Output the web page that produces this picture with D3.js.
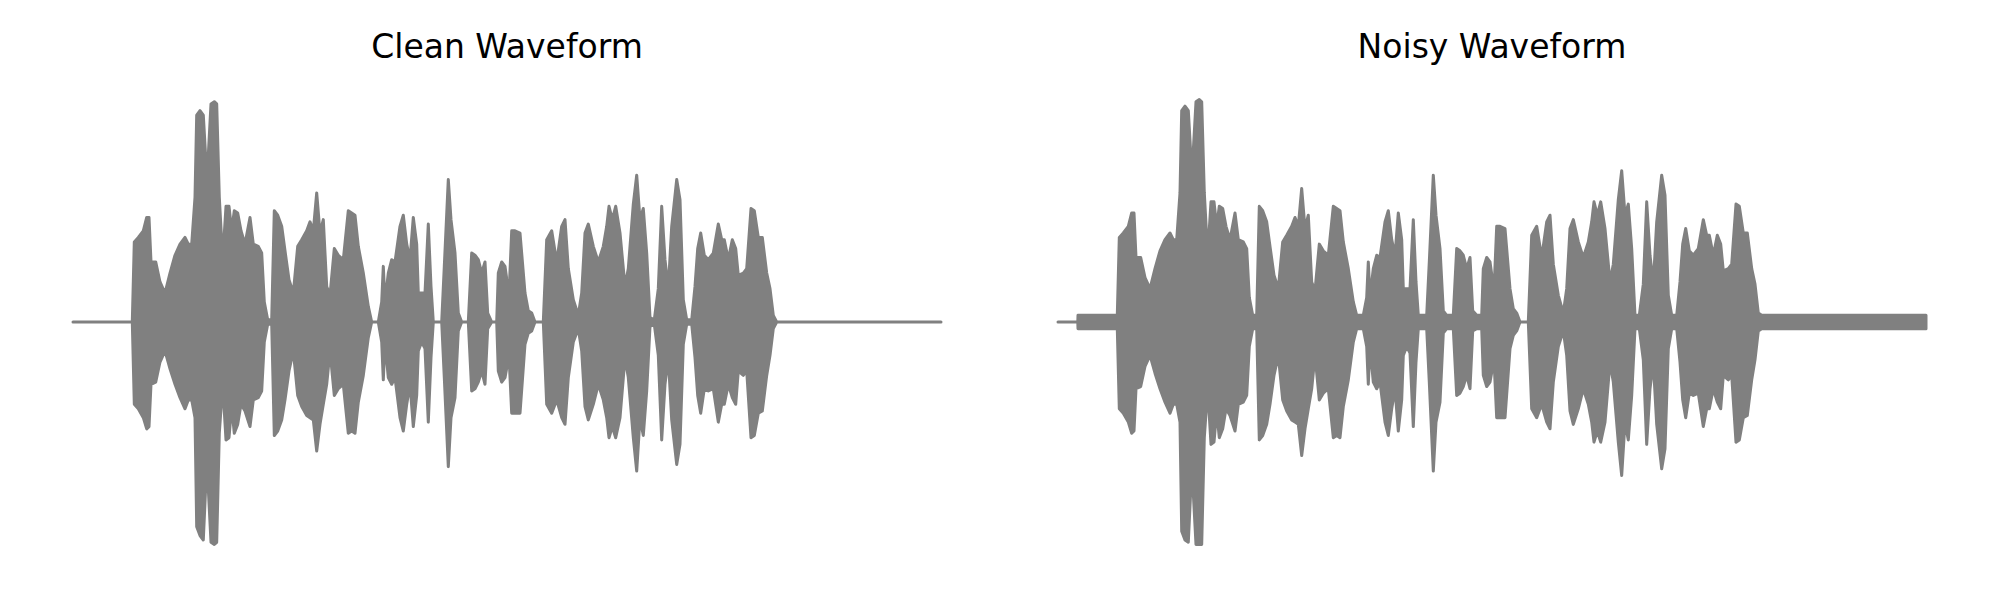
<!DOCTYPE html>
<html>
<head>
<meta charset="utf-8">
<script src="https://cdn.jsdelivr.net/npm/d3@7"></script>
<style>
  html, body { margin: 0; padding: 0; background: #ffffff; }
  svg { display: block; }
</style>
</head>
<body>
<div id="chart"></div>
<script>
// ---- Data (envelope of the waveforms) ----
const panelTitles = ["Clean Waveform", "Noisy Waveform"];
const duration = 8.68; // seconds

const timeS = [0,0.198,0.2,0.593,0.613,0.653,0.703,0.737,0.76,0.78,0.827,0.87,0.92,0.97,1.02,1.07,1.12,1.153,1.187,1.22,
1.237,1.27,1.303,1.327,1.353,1.38,1.413,1.437,1.463,1.497,1.53,1.56,1.587,1.613,1.647,1.68,1.72,1.77,1.803,1.853,
1.887,1.913,1.947,1.987,2.013,2.047,2.087,2.12,2.16,2.203,2.247,2.287,2.337,2.37,2.403,2.437,2.47,2.503,2.537,2.57,
2.613,2.653,2.703,2.753,2.787,2.82,2.853,2.903,2.953,2.987,3.053,3.087,3.103,3.12,3.153,3.187,3.22,3.27,3.303,3.337,
3.37,3.403,3.437,3.453,3.487,3.52,3.553,3.58,3.603,3.687,3.713,3.753,3.78,3.82,3.853,3.887,3.953,3.987,4.02,4.053,
4.087,4.12,4.147,4.187,4.237,4.253,4.287,4.32,4.36,4.387,4.42,4.47,4.52,4.553,4.587,4.62,4.703,4.737,4.787,4.837,
4.887,4.92,4.953,5.003,5.053,5.087,5.12,5.153,5.203,5.253,5.303,5.337,5.36,5.393,5.427,5.47,5.52,5.553,5.603,5.637,
5.67,5.703,5.737,5.77,5.813,5.853,5.887,5.92,5.953,5.987,6.037,6.07,6.103,6.137,6.187,6.22,6.247,6.277,6.313,6.353,
6.403,6.453,6.487,6.513,6.553,6.593,6.627,6.653,6.703,6.737,6.78,6.813,6.853,6.893,6.937,6.97,7.003,7.037,8.68];

const cleanUpper = [0,0,0,0,.36,.38,.41,.47,.47,.27,.27,.18,.13,.22,.30,.35,.38,.35,.35,.56,
.93,.95,.93,.74,.75,.98,.99,.98,.56,.28,.52,.52,.41,.50,.49,.41,.35,.47,.35,.34,
.31,.09,.01,.01,.50,.48,.43,.32,.19,.13,.34,.37,.41,.45,.41,.58,.40,.46,.16,.12,
.33,.30,.28,.50,.49,.48,.34,.22,.07,0,0,.09,.25,.09,.22,.28,.27,.43,.48,.35,
.28,.47,.35,.13,.13,.13,.44,.16,0,0,.25,.64,.46,.31,.04,0,0,.31,.30,.28,
.22,.27,.04,0,0,.22,.27,.25,.12,.41,.41,.40,.13,.05,.04,0,0,.37,.41,.27,
.43,.46,.24,.10,.03,.13,.40,.44,.34,.27,.34,.43,.52,.46,.52,.40,.16,.24,.53,.66,
.46,.51,.31,.02,.01,.15,.52,.28,.15,.43,.64,.55,.10,.01,.01,.16,.33,.40,.30,.28,
.31,.44,.37,.37,.28,.37,.33,.21,.22,.24,.51,.50,.38,.38,.22,.15,.03,0,0];

const cleanLower = [0,0,0,0,.37,.39,.43,.48,.47,.28,.27,.18,.13,.21,.28,.34,.39,.35,.35,.43,
.92,.96,.98,.74,.75,.99,1.0,.99,.50,.28,.53,.52,.38,.50,.46,.37,.40,.47,.35,.34,
.31,.09,.01,.01,.51,.49,.44,.35,.22,.13,.33,.38,.42,.43,.44,.58,.46,.37,.28,.13,
.33,.30,.28,.50,.49,.50,.36,.24,.07,0,0,.09,.26,.09,.25,.28,.25,.43,.49,.37,
.28,.47,.33,.13,.09,.12,.45,.16,0,0,.25,.65,.43,.34,.04,0,0,.31,.30,.27,
.22,.28,.03,0,0,.22,.27,.25,.15,.41,.41,.41,.10,.05,.04,0,0,.37,.41,.35,
.43,.46,.25,.09,.03,.13,.38,.44,.37,.28,.35,.43,.52,.47,.52,.43,.16,.25,.52,.67,
.43,.51,.31,.02,.01,.15,.53,.28,.16,.44,.64,.55,.10,.01,.01,.16,.33,.41,.30,.31,
.30,.45,.37,.37,.28,.34,.37,.22,.24,.22,.52,.51,.41,.40,.24,.15,.03,0,0];

const noisyUpper = [0,0,.03,.03,.38,.40,.43,.49,.49,.29,.29,.20,.15,.24,.32,.37,.40,.37,.37,.58,
.95,.97,.95,.76,.77,.99,1.0,.99,.58,.30,.54,.54,.43,.52,.51,.43,.37,.49,.37,.36,
.33,.11,.03,.03,.52,.50,.45,.34,.21,.15,.36,.39,.43,.47,.43,.60,.42,.48,.18,.14,
.35,.32,.30,.52,.51,.50,.36,.24,.09,.03,.03,.11,.27,.11,.24,.30,.29,.45,.50,.37,
.30,.49,.37,.15,.15,.15,.46,.18,.03,.03,.27,.66,.48,.33,.05,.03,.03,.33,.32,.30,
.24,.29,.05,.03,.03,.24,.29,.27,.14,.43,.43,.42,.15,.06,.04,0,0,.39,.43,.29,
.45,.48,.26,.12,.04,.15,.42,.46,.36,.29,.36,.45,.54,.48,.54,.42,.18,.26,.55,.68,
.48,.53,.33,.03,.03,.17,.54,.30,.17,.45,.66,.57,.12,.03,.03,.18,.35,.42,.32,.30,
.33,.46,.39,.39,.30,.39,.35,.23,.24,.26,.53,.52,.40,.40,.24,.17,.04,.03,.03];

const noisyLower = [0,0,.03,.03,.39,.41,.45,.50,.49,.30,.29,.20,.15,.23,.30,.36,.41,.37,.37,.45,
.94,.98,.99,.76,.77,1.0,1.0,1.0,.52,.30,.55,.54,.40,.52,.48,.39,.42,.49,.37,.36,
.33,.11,.03,.03,.53,.51,.46,.37,.24,.15,.35,.40,.44,.45,.46,.60,.48,.39,.30,.15,
.35,.32,.30,.52,.51,.52,.38,.26,.09,.03,.03,.11,.28,.11,.27,.30,.27,.45,.51,.39,
.30,.49,.35,.15,.11,.14,.47,.18,.03,.03,.27,.67,.45,.36,.05,.03,.03,.33,.32,.29,
.24,.30,.04,.03,.03,.24,.29,.27,.17,.43,.43,.43,.12,.06,.04,0,0,.39,.43,.37,
.45,.48,.27,.11,.04,.15,.40,.46,.39,.30,.37,.45,.54,.49,.54,.45,.18,.27,.54,.69,
.45,.53,.33,.03,.03,.17,.55,.30,.18,.46,.66,.57,.12,.03,.03,.18,.35,.43,.32,.33,
.32,.47,.39,.39,.30,.36,.39,.24,.26,.24,.54,.53,.43,.42,.26,.17,.04,.03,.03];

// ---- Drawing ----
const W = 2000, H = 600;
const color = "#808080";

const svg = d3.select("#chart").append("svg")
  .attr("width", W).attr("height", H)
  .style("background", "#ffffff");

const panels = [
  { title: panelTitles[0], upper: cleanUpper, lower: cleanLower, range: [73, 941] },
  { title: panelTitles[1], upper: noisyUpper, lower: noisyLower, range: [1058, 1926] }
];

const y = d3.scaleLinear().domain([-1, 1]).range([544.5, 99.5]);

panels.forEach(p => {
  const x = d3.scaleLinear().domain([0, duration]).range(p.range);
  const rows = timeS.map((t, i) => ({ t, u: p.upper[i], l: p.lower[i] }));
  const area = d3.area()
    .x(d => x(d.t))
    .y0(d => y(-d.l))
    .y1(d => y(d.u))
    .curve(d3.curveLinear);

  const g = svg.append("g");
  g.append("path")
    .datum(rows)
    .attr("d", area)
    .attr("fill", color)
    .attr("stroke", color)
    .attr("stroke-width", 3)
    .attr("stroke-linejoin", "round")
    .attr("stroke-linecap", "round");

  g.append("text")
    .attr("x", (p.range[0] + p.range[1]) / 2)
    .attr("y", 57.5)
    .attr("text-anchor", "middle")
    .attr("font-family", "DejaVu Sans, sans-serif")
    .attr("font-size", 33)
    .attr("fill", "#000000")
    .text(p.title);
});
</script>
</body>
</html>
